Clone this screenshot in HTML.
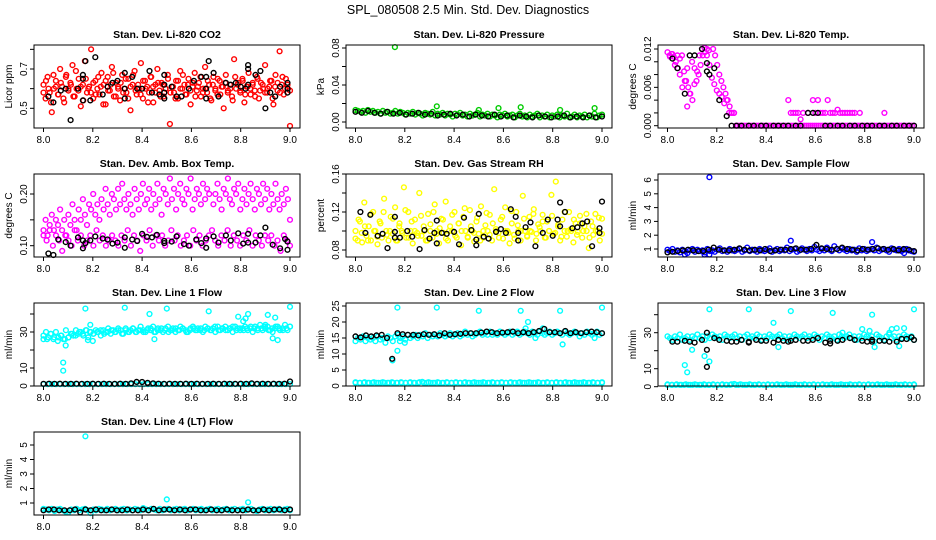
<!DOCTYPE html>
<html><head><meta charset="utf-8"><title>SPL_080508 Diagnostics</title>
<style>
html,body{margin:0;padding:0;background:#fff;}
svg{display:block;font-family:"Liberation Sans",sans-serif;}
</style></head>
<body>
<svg id="chart" width="936" height="540" viewBox="0 0 936 540">
<text x="468" y="14" text-anchor="middle" font-size="12.5">SPL_080508  2.5 Min. Std. Dev. Diagnostics</text>
</svg>
<script>
// x-axis ticks (decimal hours)
const xTicks = [8.0, 8.2, 8.4, 8.6, 8.8, 9.0];
const xTickLabels = ["8.0", "8.2", "8.4", "8.6", "8.8", "9.0"];

// ---- Panel 1: Li-820 CO2 ----
const co2Red = [0.62,0.55,0.66,0.58,0.48,0.60,0.64,0.57,0.70,0.61,0.53,0.67,0.59,0.63,0.72,0.56,0.60,0.65,0.51,0.62,0.74,0.58,0.61,0.80,0.55,0.64,0.60,0.57,0.68,0.62,0.52,0.66,0.59,0.71,0.56,0.63,0.61,0.54,0.67,0.60,0.58,0.65,0.49,0.62,0.69,0.57,0.60,0.73,0.55,0.64,0.61,0.58,0.66,0.53,0.62,0.70,0.59,0.63,0.56,0.60,0.67,0.42,0.61,0.58,0.64,0.55,0.69,0.60,0.62,0.57,0.65,0.52,0.61,0.68,0.59,0.63,0.56,0.60,0.71,0.58,0.62,0.54,0.66,0.60,0.57,0.64,0.61,0.50,0.67,0.59,0.62,0.56,0.75,0.60,0.63,0.58,0.65,0.53,0.61,0.68,0.57,0.62,0.59,0.66,0.55,0.63,0.60,0.72,0.58,0.61,0.64,0.52,0.67,0.59,0.79,0.62,0.57,0.65,0.60,0.41];
const co2Red2 = [0.58,0.64,0.60,0.53,0.67,0.61,0.57,0.63,0.55,0.66,0.60,0.62,0.56,0.69,0.59,0.61,0.54,0.65,0.60,0.58,0.63,0.57,0.66,0.61,0.52,0.64,0.59,0.62,0.68,0.56,0.60,0.63,0.58,0.65,0.55,0.61,0.67,0.59,0.62,0.57,0.64,0.60,0.53,0.66,0.61,0.58,0.63,0.56,0.62,0.60,0.65,0.58,0.61,0.55,0.64,0.60,0.67,0.57,0.62,0.59,0.63,0.56,0.61,0.66,0.58,0.60,0.64,0.55,0.62,0.59,0.65,0.57,0.61,0.63,0.58,0.60,0.54,0.66,0.62,0.59,0.64,0.57,0.61,0.60,0.63,0.56,0.65,0.59,0.62,0.58,0.60,0.64,0.55,0.61,0.63,0.58,0.66,0.60,0.62,0.59];
const co2BlackX = [8.02,8.04,8.07,8.09,8.11,8.14,8.16,8.16,8.16,8.17,8.19,8.21,8.24,8.26,8.28,8.30,8.33,8.33,8.33,8.36,8.38,8.40,8.43,8.44,8.47,8.49,8.49,8.49,8.49,8.52,8.54,8.56,8.59,8.61,8.64,8.66,8.66,8.66,8.67,8.69,8.71,8.74,8.76,8.78,8.80,8.82,8.83,8.83,8.83,8.86,8.88,8.90,8.92,8.94,8.96,8.99,8.99,8.99];
const co2BlackY = [0.56,0.53,0.59,0.60,0.44,0.60,0.54,0.65,0.67,0.74,0.54,0.76,0.57,0.61,0.63,0.64,0.55,0.60,0.68,0.66,0.60,0.60,0.69,0.58,0.57,0.55,0.58,0.62,0.67,0.61,0.56,0.56,0.60,0.64,0.66,0.55,0.60,0.66,0.74,0.68,0.56,0.63,0.62,0.63,0.61,0.60,0.62,0.70,0.72,0.67,0.69,0.50,0.58,0.56,0.61,0.58,0.60,0.63];

// ---- Panel 2: Li-820 Pressure ----
const presGreen = [0.013,0.012,0.011,0.012,0.010,0.013,0.011,0.012,0.010,0.011,0.009,0.012,0.010,0.011,0.009,0.010,0.012,0.009,0.011,0.010,0.008,0.010,0.009,0.011,0.008,0.010,0.009,0.007,0.010,0.009,0.008,0.011,0.007,0.009,0.008,0.010,0.007,0.009,0.008,0.006,0.009,0.008,0.010,0.007,0.008,0.006,0.009,0.007,0.008,0.010,0.006,0.008,0.007,0.009,0.006,0.008,0.007,0.005,0.008,0.007,0.009,0.006,0.007,0.008,0.005,0.007,0.009,0.006,0.007,0.005,0.008,0.006,0.007,0.009,0.005,0.007,0.006,0.008,0.005,0.007,0.006,0.008,0.005,0.007,0.006,0.009,0.005,0.006,0.008,0.005,0.007,0.006,0.008,0.005,0.007,0.006,0.009,0.005,0.007,0.008];
const presGreenOutX = [8.16,8.33,8.50,8.58,8.67,8.83,8.97];
const presGreenOutY = [0.081,0.017,0.013,0.015,0.016,0.013,0.015];
const presBlack = [0.011,0.010,0.012,0.010,0.009,0.011,0.009,0.010,0.008,0.009,0.010,0.008,0.009,0.007,0.008,0.009,0.007,0.008,0.006,0.008,0.007,0.006,0.008,0.006,0.007,0.005,0.007,0.006,0.005,0.007,0.006,0.005,0.006,0.007,0.005,0.006,0.005,0.007,0.005,0.006];

// ---- Panel 3: Li-820 Temp ----
const tempMag = [0.0115,0.011,0.0112,0.0108,0.010,0.009,0.0105,0.011,0.0085,0.007,0.006,0.005,0.004,0.0065,0.007,0.008,0.0095,0.011,0.0115,0.012,0.0118,0.0125,0.012,0.011,0.0095,0.008,0.007,0.006,0.005,0.004,0.003,0.002,0.002,0,0,0,0,0,0,0,0,0,0,0,0,0,0,0,0,0,0,0,0,0,0,0,0,0,0,0,0,0,0,0,0,0,0,0,0,0,0,0,0,0,0,0,0,0,0,0,0,0,0,0,0,0,0,0,0,0,0,0,0,0,0,0,0,0,0,0,0,0,0,0,0,0,0,0,0,0,0,0,0,0,0,0,0,0,0,0];
const tempMagX = [8.01,8.02,8.03,8.04,8.05,8.06,8.07,8.08,8.08,8.09,8.10,8.11,8.12,8.13,8.14,8.15,8.16,8.17,8.18,8.19,8.20,8.21,8.22,8.23,8.24,8.25,8.26,8.27,8.49,8.50,8.51,8.52,8.53,8.54,8.55,8.57,8.59,8.60,8.61,8.62,8.63,8.64,8.65,8.66,8.67,8.68,8.69,8.70,8.71,8.72,8.73,8.74,8.75,8.76,8.78,8.88];
const tempMagY = [0.0108,0.0112,0.0095,0.0110,0.0080,0.0060,0.0070,0.0030,0.0090,0.0050,0.0100,0.0090,0.0085,0.0110,0.0120,0.0122,0.0110,0.0095,0.0075,0.0065,0.0055,0.0050,0.0045,0.0035,0.0040,0.0020,0.0020,0.0020,0.0040,0.0020,0.0020,0.0020,0.0020,0.0010,0.0020,0.0020,0.0040,0.0020,0.0040,0.0020,0.0020,0.0020,0.0040,0.0020,0.0020,0.0020,0.0025,0.0020,0.0020,0.0020,0.0020,0.0020,0.0020,0.0020,0.0020,0.0020];
const tempBlackX = [8.02,8.04,8.07,8.09,8.11,8.14,8.16,8.16,8.17,8.19,8.21,8.24,8.26,8.28,8.30,8.33,8.35,8.38,8.40,8.43,8.45,8.47,8.49,8.52,8.54,8.57,8.59,8.61,8.64,8.66,8.69,8.71,8.74,8.76,8.79,8.81,8.83,8.86,8.88,8.91,8.93,8.96,8.98,9.00];
const tempBlackY = [0.0105,0.009,0.005,0.011,0.011,0.012,0.0098,0.0085,0.008,0.009,0.004,0.0015,0,0,0,0,0,0,0,0,0,0,0,0,0,0.002,0.002,0.002,0,0,0,0,0,0,0,0,0,0,0,0,0,0,0,0];

// ---- Panel 4: Amb. Box Temp ----
const ambMagHigh = [0.13,0.15,0.12,0.14,0.16,0.13,0.15,0.14,0.17,0.13,0.15,0.12,0.16,0.14,0.18,0.15,0.13,0.17,0.15,0.19,0.16,0.14,0.18,0.17,0.20,0.16,0.18,0.15,0.19,0.17,0.21,0.18,0.16,0.20,0.19,0.17,0.21,0.18,0.22,0.19,0.17,0.20,0.18,0.16,0.21,0.19,0.17,0.20,0.22,0.18,0.19,0.21,0.17,0.20,0.18,0.22,0.19,0.16,0.21,0.20,0.18,0.23,0.19,0.21,0.17,0.20,0.22,0.19,0.18,0.21,0.20,0.23,0.17,0.19,0.21,0.20,0.18,0.22,0.19,0.21,0.20,0.24,0.18,0.20,0.22,0.19,0.17,0.21,0.20,0.23,0.19,0.18,0.21,0.20,0.22,0.17,0.19,0.21,0.18,0.20,0.22,0.19,0.17,0.21,0.20,0.18,0.22,0.19,0.21,0.17,0.20,0.18,0.22,0.19,0.17,0.20,0.18,0.21,0.19,0.15];
const ambMagLow = [0.12,0.11,0.13,0.10,0.12,0.11,0.09,0.12,0.11,0.10,0.13,0.11,0.12,0.10,0.11,0.12,0.10,0.13,0.11,0.12,0.10,0.11,0.12,0.11,0.10,0.12,0.11,0.13,0.10,0.12,0.11,0.09,0.12,0.11,0.13,0.10,0.12,0.11,0.12,0.10,0.11,0.13,0.11,0.12,0.10,0.11,0.12,0.10,0.13,0.11,0.12,0.10,0.11,0.12,0.13,0.11,0.10,0.12,0.11,0.13,0.10,0.12,0.11,0.10,0.12,0.11,0.13,0.10,0.12,0.11,0.10,0.12,0.11,0.12,0.10,0.11,0.09,0.12,0.11,0.10];
const ambBlackX = [8.02,8.04,8.06,8.09,8.11,8.14,8.16,8.16,8.17,8.19,8.21,8.24,8.26,8.28,8.30,8.33,8.33,8.36,8.38,8.40,8.42,8.44,8.46,8.49,8.49,8.52,8.54,8.57,8.59,8.62,8.64,8.66,8.66,8.69,8.71,8.74,8.76,8.79,8.81,8.83,8.83,8.86,8.88,8.90,8.93,8.96,8.98,8.99,8.99];
const ambBlackY = [0.085,0.082,0.112,0.107,0.100,0.116,0.095,0.110,0.105,0.110,0.118,0.114,0.112,0.104,0.106,0.096,0.116,0.112,0.109,0.123,0.117,0.116,0.121,0.105,0.109,0.108,0.118,0.103,0.100,0.112,0.105,0.096,0.114,0.118,0.106,0.120,0.110,0.124,0.104,0.106,0.123,0.106,0.120,0.135,0.102,0.095,0.113,0.092,0.108];

// ---- Panel 5: Gas Stream RH ----
const rhYellow = [0.10,0.09,0.11,0.088,0.13,0.095,0.105,0.09,0.12,0.10,0.086,0.11,0.093,0.134,0.10,0.09,0.115,0.097,0.125,0.09,0.108,0.10,0.146,0.093,0.12,0.10,0.087,0.112,0.098,0.14,0.095,0.105,0.09,0.118,0.10,0.093,0.128,0.10,0.087,0.113,0.098,0.131,0.09,0.105,0.10,0.12,0.093,0.108,0.085,0.115,0.10,0.094,0.122,0.10,0.089,0.11,0.097,0.126,0.093,0.106,0.10,0.117,0.09,0.144,0.10,0.098,0.112,0.092,0.125,0.10,0.087,0.108,0.096,0.12,0.10,0.09,0.137,0.10,0.094,0.115,0.099,0.123,0.09,0.107,0.10,0.117,0.093,0.11,0.10,0.138,0.097,0.152,0.105,0.09,0.112,0.10,0.094,0.12,0.10,0.088,0.108,0.099,0.116,0.093,0.105,0.10,0.082,0.11,0.096,0.118,0.10,0.09,0.113];
const rhYellow2 = [0.092,0.112,0.098,0.105,0.09,0.118,0.10,0.094,0.108,0.12,0.096,0.10,0.113,0.09,0.105,0.098,0.122,0.093,0.11,0.10,0.095,0.116,0.10,0.09,0.107,0.12,0.097,0.103,0.112,0.092,0.10,0.117,0.095,0.108,0.10,0.124,0.093,0.105,0.098,0.114,0.09,0.10,0.119,0.096,0.108,0.102,0.093,0.115,0.10,0.098,0.121,0.092,0.106,0.10,0.113,0.095,0.10,0.118,0.097,0.104,0.11,0.093,0.10,0.116,0.098,0.107,0.094,0.12,0.10,0.102,0.112,0.096,0.108,0.10,0.118,0.093,0.105,0.10,0.114,0.097];
const rhBlackX = [8.02,8.04,8.06,8.09,8.11,8.13,8.16,8.16,8.16,8.18,8.21,8.23,8.26,8.28,8.30,8.32,8.33,8.33,8.35,8.37,8.40,8.42,8.44,8.47,8.49,8.49,8.50,8.52,8.54,8.57,8.59,8.61,8.63,8.65,8.66,8.66,8.69,8.71,8.73,8.76,8.78,8.80,8.82,8.83,8.83,8.85,8.88,8.90,8.92,8.94,8.96,8.99,8.99,9.00];
const rhBlackY = [0.12,0.098,0.117,0.095,0.097,0.082,0.099,0.115,0.093,0.093,0.10,0.094,0.081,0.101,0.092,0.098,0.087,0.111,0.098,0.097,0.099,0.086,0.114,0.101,0.091,0.085,0.118,0.094,0.092,0.099,0.102,0.098,0.123,0.115,0.098,0.09,0.104,0.109,0.084,0.098,0.112,0.095,0.112,0.13,0.105,0.12,0.103,0.104,0.108,0.11,0.084,0.098,0.103,0.131];

// ---- Panel 6: Sample Flow ----
const flowBlue = [0.95,0.85,1.0,0.8,0.9,0.75,0.95,0.85,0.7,0.9,1.0,0.8,0.95,0.85,0.9,0.75,1.0,0.85,0.9,0.8,0.95,1.05,0.85,0.9,0.8,1.0,0.9,0.85,0.95,1.0,0.8,0.9,1.1,0.85,0.95,0.9,0.8,1.0,0.9,0.85,0.95,1.05,0.8,0.9,1.0,0.85,0.95,0.9,1.1,0.85,0.95,1.0,0.8,0.9,1.05,0.95,0.85,1.0,0.9,1.15,0.95,0.85,1.0,0.9,1.1,0.95,0.85,1.2,1.0,0.9,1.05,0.95,0.85,1.0,0.9,0.95,0.8,1.05,0.9,1.0,0.85,0.95,1.0,0.9,1.1,0.85,0.95,1.0,0.9,0.8,1.05,0.95,0.9,1.0,0.85,0.95,1.0,0.9,0.85,0.8];
const flowBlueOutX = [8.07,8.15,8.17,8.17,8.50,8.83,8.96];
const flowBlueOutY = [0.6,0.6,6.2,0.6,1.6,1.5,0.7];
const flowBlack = [0.75,0.8,0.85,0.9,0.95,0.9,0.85,0.85,0.95,1.1,0.95,0.9,0.9,0.95,1.05,0.95,0.9,0.95,0.9,1.0,0.85,0.9,0.95,0.95,1.0,1.05,0.95,0.95,1.0,1.3,1.05,1.0,0.95,1.0,1.1,1.0,0.95,0.9,1.0,0.95,1.0,1.05,1.0,0.95,1.0,0.9,1.0,0.95,0.85];

// ---- Panel 7: Line 1 Flow ----
const l1Cyan = [26,30,27,29,26,30,27,28,26,31,27,29,28,31,29,30,28,31,27,30,29,31,30,28,31,30,32,29,31,30,32,31,29,32,30,31,32,30,31,33,31,30,32,31,33,30,32,31,30,32,33,31,32,30,31,33,32,31,30,32,33,31,32,31,30,33,32,31,32,30,33,31,32,33,31,32,30,33,32,31,32,33,31,32,30,33,32,34,31,32,33,31,30,32,33,31,32,34,31,33];
const l1Cyan2 = [28,26,29,27,25,28,26,27,29,28,30,29,31,30,29,30,31,29,30,31,30,31,29,31,30,32,30,31,30,31,32,30,31,32,31,30,31,32,31,32,30,31,32,31,32,31,32,31,33,31,32,31,32,33,31,32,31,32,33,32,31,32,33,31,32,33,32,31,32,33];
const l1CyanOutX = [8.08,8.08,8.09,8.17,8.18,8.19,8.20,8.33,8.43,8.45,8.50,8.67,8.79,8.81,8.82,8.83,8.90,8.91,8.93,8.94,8.95,9.00];
const l1CyanOutY = [13,8.5,22.5,43,25.5,34,25,43.5,40,26,43,41.5,38.5,36,37.5,40,34,39.5,26.5,38,25.5,44];
const l1CyanLow = [1,1,1,1,1,1,1,1,1,1,1,1,1,1,1,1,1,1,1,1,1,1,1,1,1,1,1,1,1,1,1,1,1,1,1,1,1,1,1,1,1,1,1,1,1,1,1,1,1,1,1,1,1,1,1,1,1,1,1,1];
const l1Black = [1.2,1.3,1.2,1.3,1.2,1.2,1.3,1.2,1.2,1.3,1.2,1.3,1.2,1.2,1.3,1.2,1.5,2.3,2.2,1.8,1.5,1.3,1.2,1.3,1.2,1.2,1.3,1.2,1.3,1.2,1.2,1.3,1.2,1.3,1.2,1.2,1.3,1.2,1.5,1.2,1.3,1.2,1.3,1.2,1.3,2.5];

// ---- Panel 8: Line 2 Flow ----
const l2Cyan = [14,15,14.5,15.5,14,15,14.5,15,14,15.5,14.5,15,13.5,15.5,15,14,15.5,16,15,15.5,14.5,16,15,15.5,16,15,16,15.5,16.5,15,16,15.5,16,15.5,16.5,16,15.5,16,16.5,15.5,16,16.5,15.5,16,17,16,16.5,15.5,16,16.5,17,16,16.5,16,17,16,16.5,16,17,16.5,16,16.5,17,16,16.5,17,16,16.5,17,16.5,16,17,16.5,16,17,16.5,16,16.5,17,16,16.5,17,16.5,16,17,16.5,16,16.5,17,16.5,15.5,16.5,16,17,16.5,16,16.5,17,16,16.5];
const l2CyanOutX = [8.15,8.17,8.17,8.18,8.20,8.33,8.50,8.67,8.69,8.70,8.73,8.76,8.83,8.84,8.97,9.00];
const l2CyanOutY = [8,24.5,11,14,13.5,24.5,23.5,23.5,18,20,15,18,23.5,13,15,24.5];
const l2CyanLow = [1,1,1,1,1,1,1,1,1,1,1,1,1,1,1,1,1.3,1,1,1,1,1,1,1,1,1,1,1,1,1,1,1,1,1,1,1,1,1,1,1,1,1,1,1,1,1,1,1,1,1,1,1,1,1,1,1,1,1,1,1];
const l2CyanLow2 = [1.2,1,1.2,1,1.2,1,1.2,1,1.2,1,1.2,1,1.2,1,1.2,1,1.2,1,1.2,1,1.2,1,1.2,1,1.2,1,1.2,1,1.2,1,1.2,1,1.2,1,1.2,1,1.2,1,1.2,1,1.2,1,1.2,1,1.2,1,1.2,1,1.2,1,1.2,1,1.2,1,1.2];
const l2Black = [15.5,15.2,15.8,15.5,15.8,16,15,8.5,16.5,16.2,16,16,15.8,16.2,16,16.2,15.8,16.5,16,16.2,16.3,16.5,16.5,16.5,16.7,17,16.8,16.5,16.7,16.8,17,16.5,16.8,16.5,16.8,17.2,17.8,16.8,16.8,16.5,17.2,16.5,16.8,16.5,16.8,17,16.8,16.5];

// ---- Panel 9: Line 3 Flow ----
const l3Cyan = [28,27,26,28,27,29,26,27,28,26,28,27,29,27,28,26,28,27,29,28,27,28,26,29,28,27,28,29,27,28,26,28,29,27,28,27,29,28,26,28,27,29,28,27,28,29,27,28,26,28,27,29,28,27,28,29,27,28,27,29,28,26,28,27,29,28,27,28,26,29,28,27,28,29,27,28,26,28,27,29,28,27,28,25,29,28,27,26,28,29,27,28,26,28,27,29,28,27,28,26];
const l3CyanOutX = [8.07,8.08,8.10,8.15,8.17,8.17,8.33,8.43,8.45,8.50,8.67,8.71,8.79,8.82,8.83,8.84,8.90,8.91,8.93,8.94,8.96,9.00];
const l3CyanOutY = [12,8,20.5,17,14,43,43,35.5,22,42,41,30,32,31,40,22,30,32,32.5,22.5,32.5,43];
const l3CyanLow = [1,1,1,1,1,1,1,1,1,1,1,1,1,1,1,1,1.5,1,1,1,1,1,1,1,1,1,1,1,1,1,1,1,1,1,1,1,1,1,1,1,1,1,1,1,1,1,1,1,1,1,1,1,1,1,1,1,1,1,1,1];
const l3CyanLow2 = [1.3,1,1.3,1,1.3,1,1.3,1,1.3,1,1.3,1,1.3,1,1.3,1,1.3,1,1.3,1,1.3,1,1.3,1,1.3,1,1.3,1,1.3,1,1.3,1,1.3,1,1.3,1,1.3,1,1.3,1,1.3,1,1.3,1,1.3,1,1.3,1,1.3,1,1.3,1,1.3,1,1.3];
const l3BlackX = [8.02,8.04,8.07,8.09,8.11,8.14,8.16,8.16,8.16,8.19,8.21,8.24,8.26,8.28,8.30,8.33,8.33,8.36,8.38,8.40,8.43,8.45,8.47,8.49,8.50,8.52,8.55,8.57,8.59,8.61,8.64,8.66,8.66,8.69,8.71,8.74,8.76,8.79,8.81,8.83,8.83,8.86,8.88,8.90,8.93,8.95,8.97,8.99,9.00];
const l3BlackY = [25,25,25.5,25,24.5,26,11,20.5,30,27,26,25.5,25,25,26,24.5,25,26,25.5,25.5,24.5,26,25.5,25,25.5,26,25.5,25.5,26,27,24.5,24,25.5,25.5,26,27,26,25.5,25,25,26,25.5,25.5,25,25,26.5,26.5,27.5,26];

// ---- Panel 10: Line 4 (LT) Flow ----
const l4Cyan = [0.6,0.55,0.5,0.6,0.45,0.55,0.6,0.5,0.4,0.35,0.55,0.5,0.6,0.5,0.55,0.6,0.5,0.3,0.55,0.5,0.6,0.55,0.5,0.6,0.5,0.55,0.6,0.5,0.55,0.6,0.5,0.55,0.5,0.6,0.55,0.5,0.65,0.55,0.5,0.6,0.55,0.5,0.6,0.5,0.55,0.6,0.5,0.55,0.6,0.5,0.55,0.6,0.5,0.55,0.6,0.5,0.55,0.6,0.5,0.55,0.6,0.5,0.55,0.6,0.5,0.55,0.6,0.5,0.55,0.6,0.5,0.55,0.6,0.5,0.55,0.6,0.5,0.45,0.55,0.6,0.5,0.55,0.6,0.5,0.55,0.6,0.5,0.55,0.6,0.5];
const l4CyanOutX = [8.17,8.50,8.83];
const l4CyanOutY = [5.6,1.25,1.05];
const l4Black = [0.5,0.55,0.55,0.5,0.5,0.5,0.55,0.35,0.55,0.5,0.55,0.5,0.5,0.55,0.5,0.5,0.55,0.5,0.5,0.55,0.5,0.6,0.5,0.55,0.55,0.5,0.55,0.5,0.55,0.55,0.5,0.5,0.55,0.5,0.5,0.55,0.5,0.5,0.5,0.55,0.5,0.5,0.55,0.5,0.55,0.55,0.5,0.55];

const NS = "http://www.w3.org/2000/svg";
const svg = document.getElementById("chart");
function mk(tag, attrs, parent) {
  const e = document.createElementNS(NS, tag);
  for (const k in attrs) e.setAttribute(k, attrs[k]);
  (parent || svg).appendChild(e);
  return e;
}
function evenTimes(n) { const t = []; for (let i = 0; i < n; i++) t.push(8 + i / (n - 1)); return t; }

const panels = [
  {key:"co2", title:"Stan. Dev. Li-820 CO2", ylab:"Licor ppm", col:0, row:0, v0:0.5, p0:108.3, v1:0.7, p1:69,
   ticks:[0.5,0.6,0.7,0.8], labels:["0.5","","0.7",""],
   series:[{c:"#ff0000", y:co2Red},{c:"#ff0000", y:co2Red2},{c:"#000", x:co2BlackX, y:co2BlackY}]},
  {key:"pressure", title:"Stan. Dev. Li-820 Pressure", ylab:"kPa", col:1, row:0, v0:0, p0:122, v1:0.08, p1:48,
   ticks:[0,0.02,0.04,0.06,0.08], labels:["0.00","","0.04","","0.08"],
   series:[{c:"#00cc00", y:presGreen},{c:"#00cc00", x:presGreenOutX, y:presGreenOutY},{c:"#000", y:presBlack}]},
  {key:"temp", title:"Stan. Dev. Li-820 Temp.", ylab:"degrees C", col:2, row:0, v0:0, p0:125.7, v1:0.012, p1:49,
   ticks:[0,0.002,0.004,0.006,0.008,0.010,0.012], labels:["0.000","","","0.006","","","0.012"],
   series:[{c:"#ff00ff", y:tempMag},{c:"#ff00ff", x:tempMagX, y:tempMagY},{c:"#000", x:tempBlackX, y:tempBlackY}]},
  {key:"ambbox", title:"Stan. Dev. Amb. Box Temp.", ylab:"degrees C", col:0, row:1, v0:0.10, p0:245.7, v1:0.20, p1:194,
   ticks:[0.10,0.15,0.20], labels:["0.10","","0.20"],
   series:[{c:"#ff00ff", y:ambMagHigh},{c:"#ff00ff", y:ambMagLow},{c:"#000", x:ambBlackX, y:ambBlackY}]},
  {key:"rh", title:"Stan. Dev. Gas Stream RH", ylab:"percent", col:1, row:1, v0:0.08, p0:250, v1:0.16, p1:174,
   ticks:[0.08,0.10,0.12,0.14,0.16], labels:["0.08","","0.12","","0.16"],
   series:[{c:"#ffff00", y:rhYellow},{c:"#ffff00", y:rhYellow2},{c:"#000", x:rhBlackX, y:rhBlackY}]},
  {key:"sampleflow", title:"Stan. Dev. Sample Flow", ylab:"ml/min", col:2, row:1, v0:1, p0:249, v1:6, p1:180,
   ticks:[1,2,3,4,5,6], labels:["1","2","3","4","5","6"],
   series:[{c:"#0000ff", y:flowBlue},{c:"#0000ff", x:flowBlueOutX, y:flowBlueOutY},{c:"#000", y:flowBlack}]},
  {key:"line1", title:"Stan. Dev. Line 1 Flow", ylab:"ml/min", col:0, row:2, v0:0, p0:386, v1:30, p1:332,
   ticks:[0,10,20,30,40], labels:["0","10","","30",""],
   series:[{c:"#00ffff", y:l1Cyan},{c:"#00ffff", y:l1Cyan2},{c:"#00ffff", x:l1CyanOutX, y:l1CyanOutY},{c:"#00ffff", y:l1CyanLow},{c:"#000", y:l1Black}]},
  {key:"line2", title:"Stan. Dev. Line 2 Flow", ylab:"ml/min", col:1, row:2, v0:0, p0:386, v1:25, p1:306,
   ticks:[0,5,10,15,20,25], labels:["0","5","10","15","20","25"],
   series:[{c:"#00ffff", y:l2Cyan},{c:"#00ffff", x:l2CyanOutX, y:l2CyanOutY},{c:"#00ffff", y:l2CyanLow},{c:"#00ffff", y:l2CyanLow2},{c:"#000", y:l2Black}]},
  {key:"line3", title:"Stan. Dev. Line 3 Flow", ylab:"ml/min", col:2, row:2, v0:0, p0:386.7, v1:30, p1:332.7,
   ticks:[0,10,20,30,40], labels:["0","10","","30",""],
   series:[{c:"#00ffff", y:l3Cyan},{c:"#00ffff", x:l3CyanOutX, y:l3CyanOutY},{c:"#00ffff", y:l3CyanLow},{c:"#00ffff", y:l3CyanLow2},{c:"#000", x:l3BlackX, y:l3BlackY}]},
  {key:"line4", title:"Stan. Dev. Line 4 (LT) Flow", ylab:"ml/min", col:0, row:3, v0:1, p0:503, v1:5, p1:445,
   ticks:[1,2,3,4,5], labels:["1","2","3","4","5"],
   series:[{c:"#00ffff", y:l4Cyan},{c:"#00ffff", x:l4CyanOutX, y:l4CyanOutY},{c:"#000", y:l4Black}]}
];

const colLeft = [34, 346, 658];
const W = 266, H = 83;
panels.forEach(p => {
  const L = colLeft[p.col], T = 45 + 129 * p.row, R = L + W, B = T + H;
  const sx = v => L + 9.5 + (v - 8) * 246.5;
  const sy = v => p.p0 + (v - p.v0) * (p.p1 - p.p0) / (p.v1 - p.v0);
  const g = mk("g", {});
  
  
  const title = mk("text", {x: L + W / 2, y: T - 7, "text-anchor": "middle", "font-size": "10.5", "font-weight": "bold"}, g);
  title.textContent = p.title;
  
  
  const yl = mk("text", {x: 0, y: 0, "text-anchor": "middle", "font-size": "10", transform: "translate(" + (L - 22) + "," + (T + H / 2) + ") rotate(-90)"}, g);
  yl.textContent = p.ylab;
  
  
  const marks = mk("g", {fill: "none", "stroke-width": "1.4"}, g);
  
  
  p.series.forEach(s => {
    const xs = s.x || evenTimes(s.y.length);
    for (let i = 0; i < s.y.length; i++) {
      const cy = sy(s.y[i]);
      if (cy < T + 1 || cy > B - 1) continue;
      const c = mk("circle", {cx: sx(xs[i]).toFixed(1), cy: cy.toFixed(1), r: "2.4", stroke: s.c}, marks);
      
      
    }
  });
  const box = mk("rect", {x: L, y: T, width: W, height: H, fill: "none", stroke: "#000", "stroke-width": "1"}, g);
  
  
  xTicks.forEach((v, i) => {
    const x = sx(v);
    mk("line", {x1: x, y1: B, x2: x, y2: B + 4, stroke: "#000"}, g);
    const t = mk("text", {x: x, y: B + 15, "text-anchor": "middle", "font-size": "10"}, g);
    t.textContent = xTickLabels[i];
    
    
  });
  p.ticks.forEach((v, i) => {
    const y = sy(v);
    mk("line", {x1: L - 4, y1: y, x2: L, y2: y, stroke: "#000"}, g);
    if (p.labels[i]) {
      const t = mk("text", {x: 0, y: 0, "text-anchor": "middle", "font-size": "10", transform: "translate(" + (L - 7) + "," + y + ") rotate(-90)"}, g);
      t.textContent = p.labels[i];
      
      
    }
  });
});
</script>
</body></html>
